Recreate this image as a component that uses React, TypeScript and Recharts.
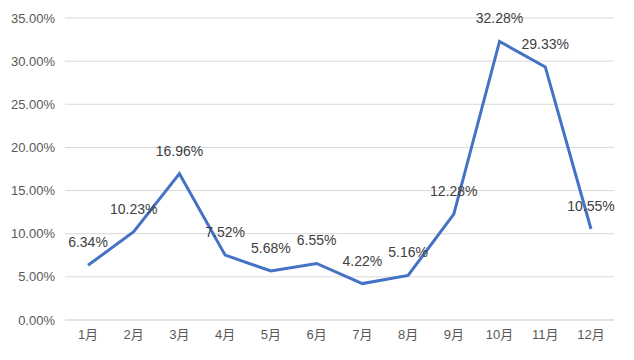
import { LineChart, Line, XAxis, YAxis, CartesianGrid, LabelList } from 'recharts'

const months = ['1月', '2月', '3月', '4月', '5月', '6月', '7月', '8月', '9月', '10月', '11月', '12月']
const rates = [6.34, 10.23, 16.96, 7.52, 5.68, 6.55, 4.22, 5.16, 12.28, 32.28, 29.33, 10.55]
const yTicks = [0, 5, 10, 15, 20, 25, 30, 35]

const data = months.map((m, i) => ({ month: m, rate: rates[i] }))

const pct = (v: number) => `${v.toFixed(2)}%`
const font = '"Liberation Sans", Arial, "Noto Sans CJK SC", sans-serif'

export default function App() {
  return (
    <div style={{ width: 626, height: 352, fontFamily: font }}>
      <LineChart
        width={626}
        height={352}
        data={data}
        margin={{ top: 10, right: 20, bottom: 0, left: 0 }}
      >
        <CartesianGrid vertical={false} stroke="#D9D9D9" />
        <XAxis
          dataKey="month"
          tickLine={false}
          axisLine={{ stroke: '#D9D9D9' }}
          tick={{ fill: '#595959', fontSize: 13, fontFamily: font }}
          tickMargin={4}
          height={40}
          padding={{ left: 23, right: 23 }}
        />
        <YAxis
          domain={[0, 35]}
          ticks={yTicks}
          tickFormatter={pct}
          tickLine={false}
          axisLine={false}
          tick={{ fill: '#595959', fontSize: 13, fontFamily: font }}
          tickMargin={4}
          width={57}
        />
        <Line
          type="linear"
          dataKey="rate"
          stroke="#4472C4"
          strokeWidth={3}
          dot={false}
          isAnimationActive={false}
        >
          <LabelList
            dataKey="rate"
            position="top"
            offset={18}
            formatter={(v: any) => pct(Number(v))}
            style={{ fill: '#404040', fontSize: 14, fontFamily: font }}
          />
        </Line>
      </LineChart>
    </div>
  )
}
